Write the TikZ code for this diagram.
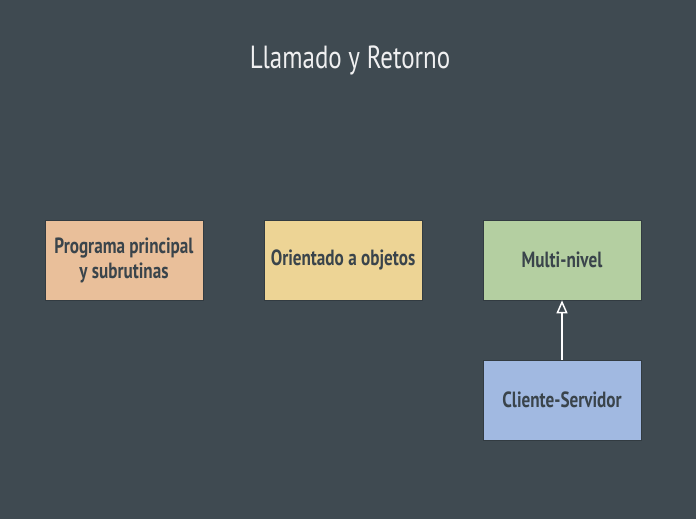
\documentclass[tikz,border=0pt]{standalone}
\usepackage{fontspec}
\setmainfont[FakeStretch=0.78]{PT Sans}
\usetikzlibrary{positioning,arrows.meta}
\definecolor{slate}{HTML}{3F4A51}
\definecolor{ink}{HTML}{3A444B}
\definecolor{peach}{HTML}{E9BF9A}
\definecolor{sand}{HTML}{EDD495}
\definecolor{sage}{HTML}{B4CFA1}
\definecolor{sky}{HTML}{A1B9E1}

\begin{document}
\begin{tikzpicture}[x=1pt, y=-1pt,
  box/.style={rectangle, draw=slate!80!black, line width=0.6pt, align=center, minimum width=158pt, minimum height=80pt, text=ink, font=\fontsize{22}{25}\selectfont\bfseries},
  title/.style={text=white!92!slate, font=\fontsize{32}{36}\selectfont},
  arrow/.style={-{Triangle[open, length=13pt, width=11pt, line width=1.5pt, fill=slate]}, draw=white, line width=1.5pt},
]

% === Background ===
\fill[slate] (0,0) rectangle (696,519);
\useasboundingbox (0,0) rectangle (696,519);

% === Title ===
\node[title] (ttl) at (350,60) {Llamado y Retorno};

% === Top row ===
\node[box, fill=peach] (prog) at (124,260) {Programa principal\\y subrutinas};
\node[box, fill=sand] (obj) at (343,260) {Orientado a objetos};
\node[box, fill=sage] (multi) at (562,260) {Multi-nivel};

% === Bottom ===
\node[box, fill=sky] (cli) at (562,400) {Cliente-Servidor};

\draw[arrow] (cli.north) -- (multi.south);

\end{tikzpicture}
\end{document}
